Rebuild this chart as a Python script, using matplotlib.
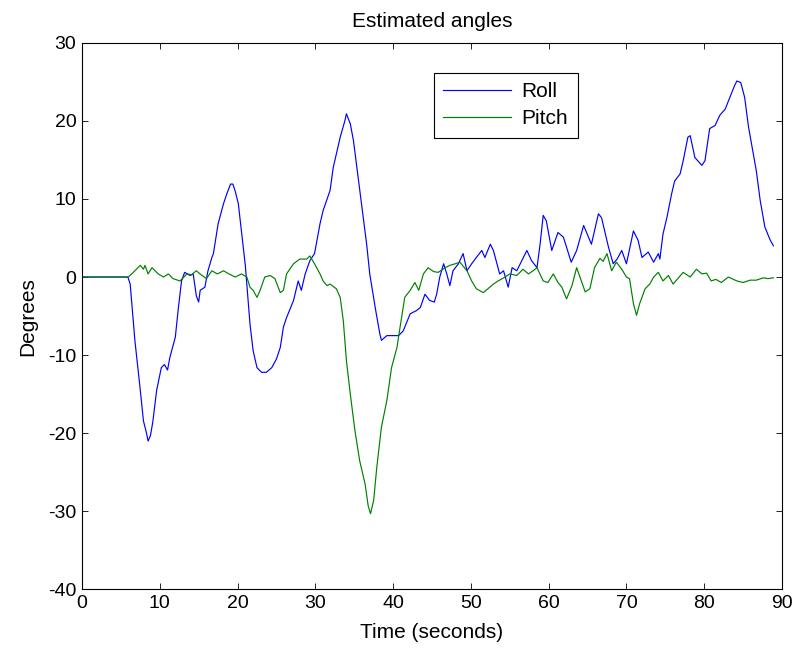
import matplotlib
matplotlib.use("Agg")
import matplotlib.pyplot as plt

plt.rcParams['font.family'] = ['Liberation Sans', 'DejaVu Sans']
plt.rcParams['axes.unicode_minus'] = False

# Roll angle samples (time in s, angle in degrees)
roll_t = [0, 5.9, 6.2, 6.8, 7.5, 7.9, 8.3, 8.5, 8.8, 9.1, 9.6, 10.2, 10.6, 11.0, 11.3,
          12.0, 12.4, 12.8, 13.2, 13.9, 14.3, 14.7, 15.0, 15.2, 15.8, 16.2, 16.7, 16.9,
          17.5, 18.2, 18.6, 19.1, 19.4, 19.7, 20.1, 20.5, 21.0, 21.6, 22.0, 22.5, 23.1,
          23.7, 24.4, 25.0, 25.5, 25.9, 26.3, 27.2, 27.8, 28.2, 28.7, 29.3, 29.9, 30.6,
          31.0, 31.9, 32.3, 33.2, 33.8, 34.0, 34.5, 34.9, 35.5, 36.0, 36.6, 37.0, 37.7,
          38.3, 38.5, 39.2, 39.8, 40.7, 41.3, 42.0, 42.2, 43.0, 43.5, 44.1, 44.7, 45.3,
          45.6, 46.0, 46.5, 46.9, 47.3, 47.7, 48.4, 49.0, 49.5, 50.1, 50.7, 51.4, 51.8,
          52.5, 52.9, 53.7, 54.2, 54.8, 55.3, 55.9, 57.2, 57.8, 58.5, 58.9, 59.3, 59.7,
          60.4, 61.2, 61.9, 62.9, 63.6, 64.5, 65.5, 66.4, 66.8, 67.7, 68.3, 68.8, 69.4,
          70.0, 70.9, 71.5, 72.0, 72.8, 73.5, 74.1, 74.3, 74.7, 75.2, 75.8, 76.2, 76.9,
          77.3, 77.9, 78.2, 78.8, 79.7, 80.1, 80.7, 81.4, 82.0, 82.7, 83.3, 83.9, 84.2,
          84.7, 85.2, 85.7, 86.3, 86.7, 87.2, 87.8, 88.5, 88.9]
roll_deg = [0, 0, -0.9, -8.1, -14.5, -18.4, -20.0, -21.0, -20.3, -18.6, -14.5, -11.6, -11.2,
            -11.9, -10.3, -7.7, -3.9, -0.5, 0.6, 0.2, 0.4, -2.4, -3.2, -1.7, -1.3, 0.8, 2.5,
            3.0, 6.8, 9.4, 10.6, 11.9, 11.9, 11.0, 9.4, 5.9, 1.5, -6.0, -9.4, -11.6, -12.2,
            -12.2, -11.6, -10.5, -9.0, -6.4, -5.2, -3.0, -0.5, -1.7, 0.4, 2.1, 3.0, 6.8,
            8.5, 11.1, 14.0, 17.9, 20.0, 20.9, 19.6, 17.5, 12.8, 8.9, 4.2, 0.4, -3.9,
            -7.3, -8.1, -7.5, -7.5, -7.5, -6.9, -5.2, -4.7, -4.3, -3.9, -2.2, -3.0, -3.2,
            -2.2, 0.0, 1.7, 0.4, -1.1, 0.8, 1.7, 3.0, 0.8, 1.7, 2.5, 3.4, 2.5,
            4.2, 3.4, 0.4, 0.8, -1.3, 1.2, 0.8, 3.4, 2.1, 1.2, 4.2, 7.9, 7.2,
            3.4, 5.7, 5.1, 1.9, 3.4, 6.6, 4.2, 8.1, 7.6, 3.8, 1.7, 2.3, 3.4,
            1.7, 5.9, 4.7, 2.5, 3.2, 1.9, 3.0, 2.3, 5.5, 7.6, 10.6, 12.3, 13.2,
            14.9, 17.9, 18.1, 15.3, 14.3, 14.9, 19.0, 19.4, 20.7, 21.5, 23.0, 24.5, 25.1,
            24.9, 23.0, 19.2, 15.8, 13.6, 9.8, 6.4, 4.7, 4.0]

# Pitch angle samples (time in s, angle in degrees)
pitch_t = [0, 5.95, 6.6, 7.5, 7.9, 8.1, 8.5, 9.0, 9.8, 10.5, 11.1, 11.7, 12.6, 13.5, 14.1,
           14.7, 15.3, 16.0, 16.7, 17.4, 18.2, 18.9, 19.7, 20.5, 21.2, 21.6, 22.0, 22.5,
           22.9, 23.5, 24.2, 24.8, 25.5, 25.9, 26.3, 27.2, 28.0, 28.9, 29.3, 29.9, 30.6,
           31.0, 31.5, 31.9, 32.7, 33.2, 33.6, 34.0, 34.5, 35.1, 35.7, 36.4, 36.8, 37.1,
           37.5, 37.9, 38.5, 39.2, 39.8, 40.5, 40.9, 41.5, 42.2, 42.8, 43.3, 43.9, 44.5,
           45.2, 45.8, 46.7, 47.3, 48.0, 48.6, 49.0, 49.5, 50.1, 50.7, 51.6, 52.2, 52.9,
           53.5, 54.4, 55.0, 55.9, 56.7, 57.4, 58.0, 58.5, 59.3, 59.9, 60.6, 61.2, 61.7,
           62.3, 63.0, 63.6, 64.2, 64.7, 65.3, 65.9, 66.6, 67.0, 67.5, 68.1, 68.7, 69.4,
           70.0, 70.4, 70.9, 71.3, 71.7, 72.4, 73.0, 73.5, 74.1, 74.7, 75.4, 76.0, 76.6,
           77.3, 78.2, 79.0, 79.7, 80.3, 80.9, 81.5, 82.2, 83.1, 84.2, 85.0, 85.9, 86.7,
           87.6, 88.2, 88.9]
pitch_deg = [0, 0, 0.6, 1.5, 1.0, 1.5, 0.4, 1.2, 0.4, 0.0, 0.4, -0.2, -0.5, 0.4, 0.3,
             0.8, 0.3, -0.2, 0.8, 0.4, 0.8, 0.4, 0.0, 0.4, 0.0, -1.3, -1.7, -2.6,
             -1.7, 0.0, 0.2, -0.2, -2.0, -1.7, 0.4, 1.7, 2.3, 2.3, 2.7, 1.7, 0.4,
             -0.5, -1.1, -0.9, -1.5, -2.6, -5.6, -10.7, -15.0, -19.7, -23.5, -26.5, -29.3, -30.3,
             -28.6, -24.4, -19.2, -15.8, -11.6, -9.0, -6.4, -2.6, -1.7, -0.7, -1.7, 0.4, 1.2,
             0.7, 0.6, 1.2, 1.5, 1.7, 1.9, 1.4, 0.8, -0.5, -1.5, -2.0, -1.5, -0.9,
             -0.5, 0.0, 0.4, 0.2, 1.0, 0.4, 0.8, 1.2, -0.5, -0.7, 0.4, -0.7, -1.3,
             -2.8, -1.1, 1.2, -0.5, -1.9, -1.5, 1.2, 2.4, 2.0, 3.0, 0.8, 1.9, 1.0,
             0.0, -0.2, -3.4, -4.9, -3.4, -1.5, -0.9, 0.0, 0.6, -0.5, 0.2, -0.9, -0.2,
             0.6, 0.0, 1.0, 0.4, 0.5, -0.5, -0.3, -0.7, 0.0, -0.5, -0.7, -0.4, -0.4,
             -0.1, -0.2, -0.1]

x_ticks = [0, 10, 20, 30, 40, 50, 60, 70, 80, 90]
y_ticks = [-40, -30, -20, -10, 0, 10, 20, 30]

fig = plt.figure(figsize=(7.99, 6.5), dpi=100)
ax = fig.add_axes([0.1026, 0.0931, 0.8761, 0.8412])

ax.plot(roll_t, roll_deg, color=(0, 0, 1), lw=0.85, label='Roll')
ax.plot(pitch_t, pitch_deg, color=(0, 0.5, 0), lw=0.85, label='Pitch')

ax.set_xlim(0, 90)
ax.set_ylim(-40, 30)
ax.set_xticks(x_ticks)
ax.set_yticks(y_ticks)
ax.tick_params(direction='in', top=True, right=True, length=4, width=0.6,
               labelsize=14, pad=4)
for s in ax.spines.values():
    s.set_linewidth(0.8)

ax.set_title('Estimated angles', fontsize=15, pad=11)
ax.set_xlabel('Time (seconds)', fontsize=15, labelpad=8)
ax.set_ylabel('Degrees', fontsize=15, labelpad=8)

leg = ax.legend(loc='upper left', bbox_to_anchor=(0.503, 0.945), fontsize=15,
                fancybox=False, framealpha=1, edgecolor='black',
                handlelength=3.25, handletextpad=0.5, borderpad=0.45, labelspacing=0.4,
                borderaxespad=0)
leg.get_frame().set_linewidth(0.8)

fig.savefig('out.png', dpi=100)
